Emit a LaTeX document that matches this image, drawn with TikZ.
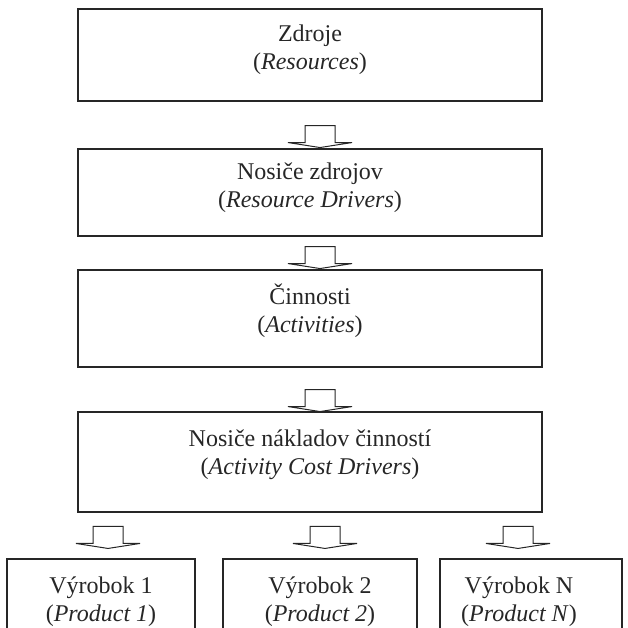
\documentclass[tikz,border=0pt]{standalone}
\usepackage{fontspec}
\setmainfont{Liberation Serif}
\usetikzlibrary{calc}
\begin{document}
\begin{tikzpicture}[x=1pt,y=-1pt,
  box/.style={draw=black!85,line width=1.1pt,inner sep=0pt,minimum width=464pt},
  pbox/.style={draw=black!85,line width=1.1pt,inner sep=0pt,minimum height=91pt},
  txt/.style={align=center,font=\fontsize{24}{28}\selectfont,inner sep=0pt,text=black!85},
  arrline/.style={draw=black!85,line width=1pt,line join=miter},
  blockarr/.pic={\draw[arrline] (-15,0) -- (-15,17) -- (-32,17) -- (0,22) -- (32,17) -- (15,17) -- (15,0) -- cycle;}]
\useasboundingbox (0,0) rectangle (627,628);
\clip (0,0) rectangle (627,628);
% main column boxes
\node[box,minimum height=92pt] (b1) at (310,55) {};
\node[box,minimum height=87pt] (b2) at (310,192.5) {};
\node[box,minimum height=97pt] (b3) at (310,318.5) {};
\node[box,minimum height=100pt] (b4) at (310,462) {};
% product boxes (cut off at the bottom of the picture)
\node[pbox,minimum width=188pt] (p1) at (101,604.5) {};
\node[pbox,minimum width=194pt] (p2) at (320,604.5) {};
\node[pbox,minimum width=182pt] (pn) at (531,604.5) {};
% texts
\node[txt] (t1) at (310,50) {Zdroje\\(\textit{Resources})};
\node[txt] (t2) at (310,188) {Nosiče zdrojov\\(\textit{Resource Drivers})};
\node[txt] (t3) at (310,311) {Činnosti\\(\textit{Activities})};
\node[txt] (t4) at (310,455) {Nosiče nákladov činností\\(\textit{Activity Cost Drivers})};
\node[txt] (tp1) at (101,602) {Výrobok 1\\(\textit{Product 1})};
\node[txt] (tp2) at (320,602) {Výrobok 2\\(\textit{Product 2})};
\node[txt] (tpn) at (519,602) {Výrobok N\\(\textit{Product N})};
% block arrows
\pic at ($(b1.south)+(10,24)$) {blockarr};
\pic at ($(b2.south)+(10,10)$) {blockarr};
\pic at ($(b3.south)+(10,22)$) {blockarr};
\pic at ($(p1.north)+(7,-32)$) {blockarr};
\pic at ($(p2.north)+(5,-32)$) {blockarr};
\pic at ($(pn.north)+(-13,-32)$) {blockarr};
\end{tikzpicture}
\end{document}
